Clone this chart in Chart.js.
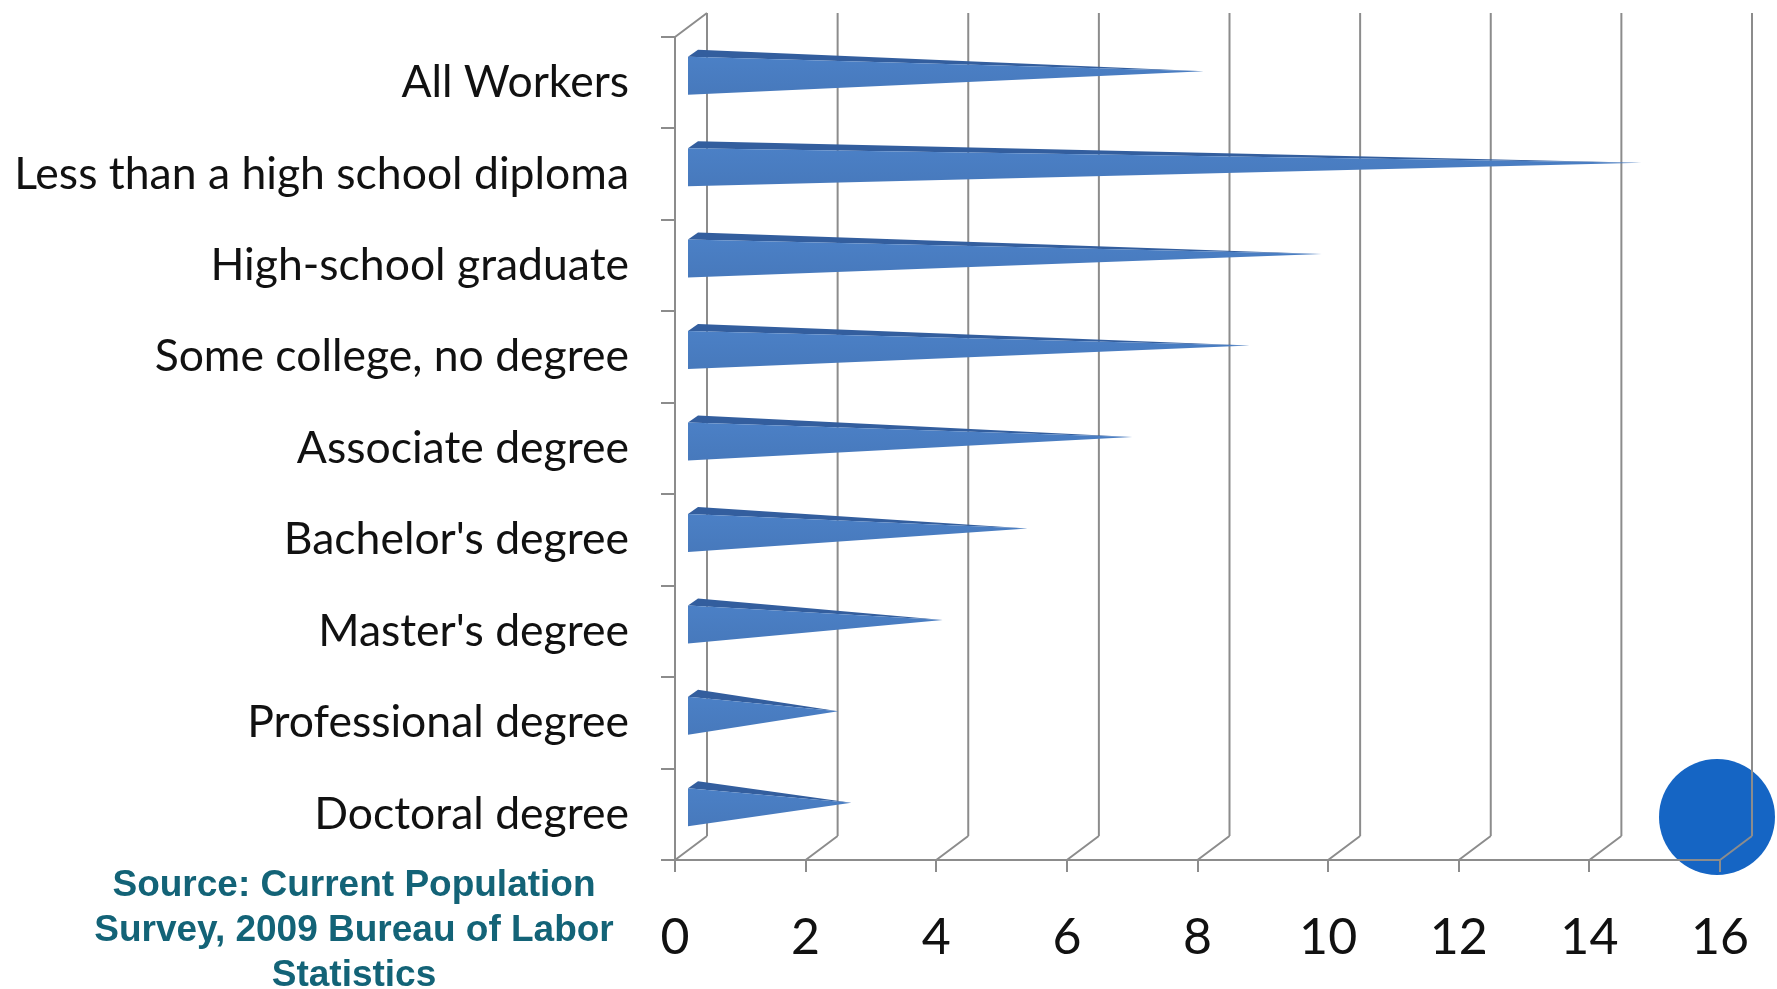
<!DOCTYPE html>
<html>
<head>
<meta charset="utf-8">
<script src="https://cdn.jsdelivr.net/npm/chart.js@4.4.0/dist/chart.umd.min.js"></script>
<style>
    body { margin: 0; background: #ffffff; }
    #wrap { position: relative; width: 1777px; height: 989px; overflow: hidden; }
    #dot {
        position: absolute; left: 1659px; top: 759px; width: 116px; height: 116px;
        border-radius: 50%; background: #1565c4; z-index: 0;
    }
    #chart { position: absolute; left: 0; top: 0; z-index: 1; }
    #source {
        position: absolute; left: 54px; top: 861px; width: 600px; z-index: 2;
        text-align: center; color: #136377;
        font: bold 37px "Liberation Sans", Arial, sans-serif; line-height: 45px;
    }
</style>
</head>
<body>
<div id="wrap">
    <div id="dot"></div>
    <canvas id="chart" width="1777" height="989"></canvas>
    <div id="source">Source: Current Population<br>Survey, 2009 Bureau of Labor<br>Statistics</div>
</div>
<script>
const categories = [
    'All Workers',
    'Less than a high school diploma',
    'High-school graduate',
    'Some college, no degree',
    'Associate degree',
    "Bachelor's degree",
    "Master's degree",
    'Professional degree',
    'Doctoral degree'
];
const unemployment = [7.9, 14.6, 9.7, 8.6, 6.8, 5.2, 3.9, 2.3, 2.5];
const xTicks = [0, 2, 4, 6, 8, 10, 12, 14, 16];

const GRID = '#8c8c8c';
const DEPTH_X = 32, DEPTH_Y = -24;

// back wall and floor of the 3D box
const wallPlugin = {
    id: 'walls',
    beforeDatasetsDraw(chart) {
        const { ctx, chartArea: a, scales: { x } } = chart;
        ctx.save();
        ctx.strokeStyle = GRID;
        ctx.lineWidth = 2;
        ctx.beginPath();
        xTicks.forEach(v => {
            const px = x.getPixelForValue(v);
            ctx.moveTo(px + DEPTH_X, a.top + DEPTH_Y);
            ctx.lineTo(px + DEPTH_X, a.bottom + DEPTH_Y);
            ctx.moveTo(px, a.bottom);
            ctx.lineTo(px + DEPTH_X, a.bottom + DEPTH_Y);
        });
        ctx.moveTo(a.left, a.top);
        ctx.lineTo(a.left + DEPTH_X, a.top + DEPTH_Y);
        ctx.stroke();
        ctx.restore();
    }
};

// each bar drawn as a flat cone lying along the value axis
const conePlugin = {
    id: 'cones',
    afterDatasetsDraw(chart) {
        const { ctx } = chart;
        const meta = chart.getDatasetMeta(0);
        ctx.save();
        meta.data.forEach(bar => {
            const { x, y, base } = bar.getProps(['x', 'y', 'base'], true);
            const tipX = x + 13, tipY = y - 11.5;
            // darker top face
            ctx.fillStyle = '#335e9e';
            ctx.beginPath();
            ctx.moveTo(base + 12, y - 26);
            ctx.lineTo(base + 22, y - 33);
            ctx.lineTo(tipX, tipY);
            ctx.closePath();
            ctx.fill();
            // front face
            const g = ctx.createLinearGradient(0, y - 26, 0, y + 12);
            g.addColorStop(0, '#4b80c6');
            g.addColorStop(1, '#4779bc');
            ctx.fillStyle = g;
            ctx.beginPath();
            ctx.moveTo(base + 12, y - 26);
            ctx.lineTo(tipX, tipY);
            ctx.lineTo(base + 12, y + 12);
            ctx.closePath();
            ctx.fill();
        });
        ctx.restore();
    }
};

new Chart(document.getElementById('chart').getContext('2d'), {
    type: 'bar',
    data: {
        labels: categories,
        datasets: [{
            data: unemployment,
            backgroundColor: 'rgba(0,0,0,0)',
            borderWidth: 0,
            categoryPercentage: 1,
            barPercentage: 0.4
        }]
    },
    options: {
        indexAxis: 'y',
        responsive: false,
        animation: false,
        events: [],
        layout: { padding: { top: 37, right: 57, left: 0, bottom: 0 } },
        plugins: { legend: { display: false }, tooltip: { enabled: false } },
        scales: {
            x: {
                min: 0,
                max: 16,
                afterFit: s => { s.height = 129; s.paddingLeft = 0; s.paddingRight = 0; },
                afterBuildTicks: s => { s.ticks = xTicks.map(v => ({ value: v })); },
                grid: { drawOnChartArea: false, drawTicks: true, tickLength: 12, color: GRID, lineWidth: 2 },
                border: { display: true, color: GRID, width: 2 },
                ticks: { color: '#111111', padding: 36, font: { family: 'Lato', size: 50 } }
            },
            y: {
                afterFit: s => { s.width = 675; s.paddingTop = 0; s.paddingBottom = 0; },
                grid: { offset: true, drawOnChartArea: false, drawTicks: true, tickLength: 14, color: GRID, lineWidth: 2 },
                border: { display: true, color: GRID, width: 2 },
                ticks: { color: '#111111', padding: 32, font: { family: 'Lato', size: 44.5 } }
            }
        }
    },
    plugins: [wallPlugin, conePlugin]
});
</script>
</body>
</html>
